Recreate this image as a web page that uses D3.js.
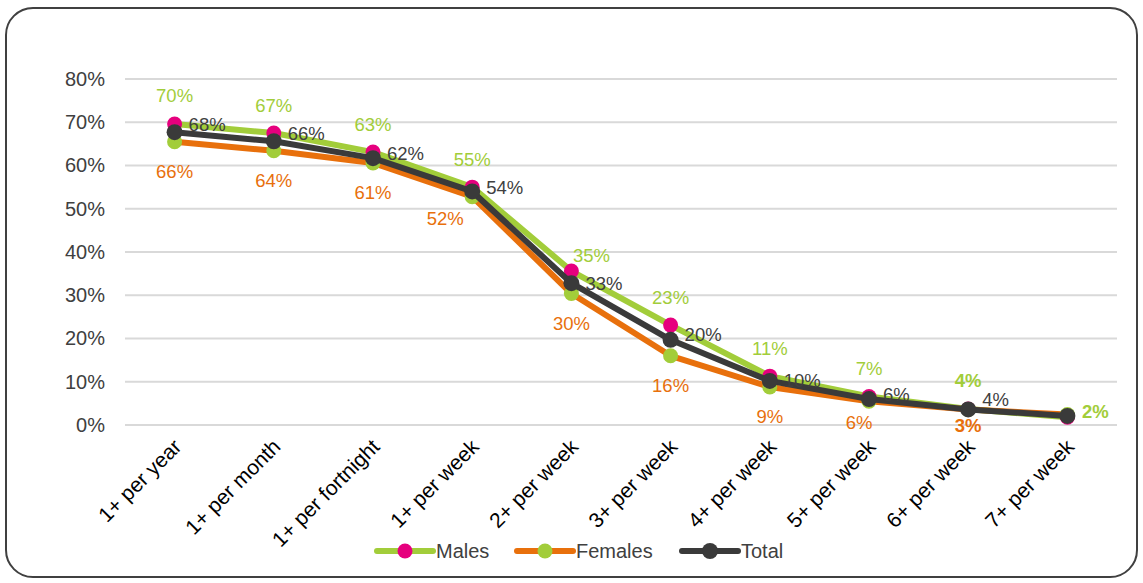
<!DOCTYPE html>
<html>
<head>
<meta charset="utf-8">
<script src="https://cdn.jsdelivr.net/npm/d3@7/dist/d3.min.js"></script>
<style>
html,body{margin:0;padding:0;background:#fff;}
svg{display:block;font-family:"Liberation Sans",Arial,sans-serif;}
</style>
</head>
<body>
<svg id="chart" width="1143" height="583"></svg>
<script>
const categories = ["1+ per year","1+ per month","1+ per fortnight","1+ per week","2+ per week","3+ per week","4+ per week","5+ per week","6+ per week","7+ per week"];
const males   = [69.6, 67.5, 63.1, 55.0, 35.6, 23.1, 11.3, 6.6, 3.7, 1.8];
const females = [65.5, 63.4, 60.6, 52.8, 30.4, 16.0, 8.8, 5.5, 3.6, 2.4];
const total   = [67.7, 65.6, 61.7, 54.0, 32.8, 19.7, 10.2, 6.0, 3.6, 2.1];
const malesLabels   = ["70%","67%","63%","55%","35%","23%","11%","7%","4%","2%"];
const femalesLabels = ["66%","64%","61%","52%","30%","16%","9%","6%","3%",""];
const totalLabels   = ["68%","66%","62%","54%","33%","20%","10%","6%","4%",""];
const yTicks = [0,10,20,30,40,50,60,70,80];

const svg = d3.select("#chart");
const W = 1143, H = 583;
const m = {left:125, right:26, top:79, bottom:158};

// frame
svg.append("rect").attr("x",6).attr("y",8).attr("width",W-12).attr("height",H-14)
  .attr("rx",27).attr("ry",27).attr("fill","#fff").attr("stroke","#404040").attr("stroke-width",2);

const x = d3.scaleBand().domain(categories).range([m.left, W-m.right]).padding(0);
const y = d3.scaleLinear().domain([0,80]).range([H-m.bottom, m.top]);
const cx = c => x(c) + x.bandwidth()/2;

// gridlines
svg.append("g").selectAll("line").data(yTicks).join("line")
  .attr("x1",m.left).attr("x2",W-m.right)
  .attr("y1",d=>y(d)).attr("y2",d=>y(d))
  .attr("stroke","#D9D9D9").attr("stroke-width",2);

// y axis
const yAxis = svg.append("g").attr("transform",`translate(${m.left},0)`)
  .call(d3.axisLeft(y).tickValues(yTicks).tickFormat(d=>d+"%").tickSize(0).tickPadding(20));
yAxis.select(".domain").remove();
yAxis.selectAll("text").attr("font-size",20).attr("fill","#404040")
  .attr("font-family","'Liberation Sans',Arial,sans-serif");

// x axis
const xAxis = svg.append("g").attr("transform",`translate(0,${H-m.bottom})`)
  .call(d3.axisBottom(x).tickSize(0).tickPadding(0));
xAxis.select(".domain").remove();
xAxis.selectAll("text")
  .attr("font-size",21).attr("fill","#000").attr("font-family","'Liberation Sans',Arial,sans-serif")
  .attr("text-anchor","end").attr("dy",0)
  .attr("transform","translate(8,23) rotate(-45)");

const series = [
  {name:"Males", values:males, labels:malesLabels, line:"#A2CD3A", marker:"#E6007E", r:7.5, labelColor:"#A2CD3A", pos:"above"},
  {name:"Females", values:females, labels:femalesLabels, line:"#E8700C", marker:"#A2CD3A", r:7.5, labelColor:"#E8700C", pos:"below"},
  {name:"Total", values:total, labels:totalLabels, line:"#3A3A3A", marker:"#3A3A3A", r:8, labelColor:"#404040", pos:"right"}
];

// label nudges (pixel offsets) for manually placed labels in the original
const nudge = {
  "Males-4":[20,12], "Males-9":[28,22],
  "Females-3":[-27,-8], "Females-7":[-10,-9], "Females-8":[0,-14],
  "Total-0":[0,-8], "Total-1":[0,-8], "Total-2":[0,-5], "Total-3":[0,-4], "Total-5":[0,-5],
  "Total-7":[0,-5], "Total-8":[0,-10]
};
const bold = {"Males-8":true,"Males-9":true,"Females-8":true};

const line = d3.line().x((d,i)=>cx(categories[i])).y(d=>y(d));

series.forEach(s=>{
  svg.append("path").datum(s.values).attr("d",line)
    .attr("fill","none").attr("stroke",s.line).attr("stroke-width",6)
    .attr("stroke-linejoin","round").attr("stroke-linecap","round");
  svg.append("g").selectAll("circle").data(s.values).join("circle")
    .attr("cx",(d,i)=>cx(categories[i])).attr("cy",d=>y(d)).attr("r",s.r)
    .attr("fill",s.marker);
});

series.forEach(s=>{
  svg.append("g").selectAll("text").data(s.values).join("text")
    .text((d,i)=>s.labels[i])
    .attr("x",(d,i)=>{
      const n = nudge[s.name+"-"+i]||[0,0];
      return cx(categories[i]) + (s.pos==="right"?14:0) + n[0];
    })
    .attr("y",(d,i)=>{
      const n = nudge[s.name+"-"+i]||[0,0];
      const off = s.pos==="above"?-28:(s.pos==="below"?30:0);
      return y(d) + off + n[1];
    })
    .attr("dy","0.35em")
    .attr("text-anchor",s.pos==="right"?"start":"middle")
    .attr("font-size",18.5)
    .attr("font-weight",(d,i)=>bold[s.name+"-"+i]?"bold":"normal")
    .attr("fill",s.labelColor);
});

// legend
const legendItems = [
  {s:series[0], x0:377},
  {s:series[1], x0:517},
  {s:series[2], x0:682}
];
const ly = 551;
const lg = svg.append("g");
legendItems.forEach(li=>{
  lg.append("line").attr("x1",li.x0).attr("x2",li.x0+56).attr("y1",ly).attr("y2",ly)
    .attr("stroke",li.s.line).attr("stroke-width",6).attr("stroke-linecap","round");
  lg.append("circle").attr("cx",li.x0+28).attr("cy",ly).attr("r",li.s.r).attr("fill",li.s.marker);
  lg.append("text").attr("x",li.x0+59).attr("y",ly).attr("dy","0.35em")
    .attr("font-size",20).attr("fill","#404040").text(li.s.name);
});
</script>
</body>
</html>
